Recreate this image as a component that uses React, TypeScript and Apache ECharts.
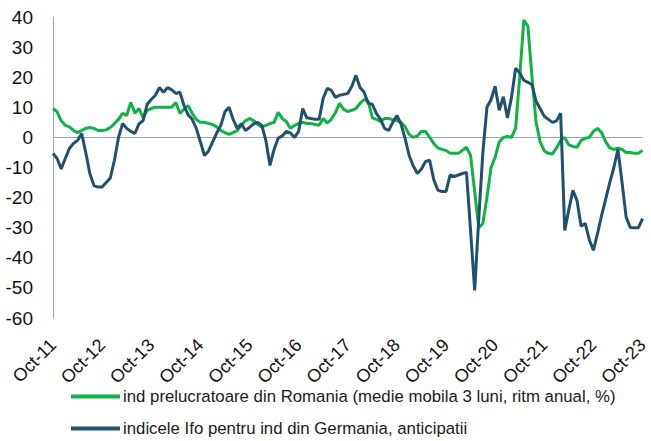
import React, { useEffect, useRef } from "react";
import * as echarts from "echarts";

const monthNames = ["Jan", "Feb", "Mar", "Apr", "May", "Jun", "Jul", "Aug", "Sep", "Oct", "Nov", "Dec"];
const startYear = 2011;
const startMonth = 9; // October
const nMonths = 145;
const categories: string[] = [];
for (let i = 0; i < nMonths; i++) {
  const m = (startMonth + i) % 12;
  const y = startYear + Math.floor((startMonth + i) / 12);
  categories.push(`${monthNames[m]}-${String(y % 100).padStart(2, "0")}`);
}

const seriesNames = [
  "ind prelucratoare din Romania (medie mobila 3 luni, ritm anual, %)",
  "indicele Ifo pentru ind din Germania, anticipatii",
];

const romaniaIndustry = [
  9.6, 8.5, 5.5, 4, 3.5, 2.3, 1.6, 2.3, 3, 3.3, 3, 2.3, 2.3, 2.5, 3.3, 4.6, 6, 8, 7.3, 11.6,
  8, 9.6, 6.6, 9, 9.6, 10, 10, 10, 10, 10, 11.6, 8, 9.3, 10.6, 8, 6, 5, 5, 4.6, 4.3,
  3.5, 2.3, 1.6, 1, 1.6, 2.3, 4, 5.5, 6.3, 5.6, 4.3, 3.5, 4, 4.6, 5, 8.3, 6.3, 5.3, 3, 4,
  4.6, 5, 4.6, 4.6, 4.3, 4, 6.3, 4.8, 6, 8.3, 11.3, 9.3, 8.6, 9, 9.6, 11.3, 12.6, 12, 6.5, 6,
  5.3, 6.3, 6.3, 5.8, 5.6, 5, 3.5, 1, 0, 0.5, 2, 2, 0, -2, -3.5, -4, -4.3, -5.3, -5.3, -5.3,
  -4.3, -3.3, -6, -18, -30, -28.6, -20, -10, -6.6, -1.5, 0, 0.3, 0, 3, 20, 39, 37, 20, 5, -1.5,
  -4.5, -5.3, -5.5, -3.5, -1, 0, -2.5, -3, -3.3, -1, -0.3, 0, 2, 3, 1.6, -1.5, -3.5, -4, -3.6, -4,
  -5, -5, -5.3, -5.3, -4.3,
];

const ifoExpectations = [
  -5.3, -7, -10.5, -7, -3.7, -2, -1, 1.3, -5, -12, -16, -16.5, -16.5, -15, -13.5, -7.6, 0, 4.6, 3, 2,
  1.3, 4.5, 5.6, 11, 12.6, 14, 16.6, 15, 16.6, 15.8, 14.6, 15, 10.6, 7.5, 6, 3, -1.5, -6, -4.5, -1.5,
  1.5, 4, 8.5, 10, 6, 3, 4.5, 2.3, 3.3, 4.5, 5, 4, -1, -9.3, -4, -0.3, 0.5, 2, 1.5, 0,
  2, 9.6, 6.5, 6.3, 6, 6, 13, 16.3, 15.6, 13.3, 14, 14.3, 14.6, 17, 20.6, 16.6, 15, 11.3, 11, 8,
  6, 3, 2.3, 5, 7.3, 4.5, -0.3, -6, -9.5, -12, -10.5, -8, -7.6, -14, -17.5, -18, -18, -12.5, -13, -12.5,
  -12, -11.6, -31, -50.8, -27, -5, 10, 12.5, 17, 9, 13.5, 6.5, 13.3, 23, 21.5, 19, 18.3, 17.5, 12, 9.5,
  7, 6, 5, 5.5, 8, -30.9, -24, -17.6, -21, -29.5, -28.6, -34, -37.5, -32, -26, -20.5, -15, -10, -4, -15,
  -26.5, -29.9, -30, -30, -27,
];

const colors = ["#0DB443", "#22506F"];
const FONT = "'Liberation Sans', Arial, sans-serif";

const legendBase = {
  orient: "horizontal",
  left: 71,
  padding: 0,
  icon: "rect",
  itemWidth: 49,
  itemHeight: 4,
  textStyle: { fontFamily: FONT, fontSize: 16.8, color: "#1a1a1a", padding: [0, 0, 0, -2] },
};

export default function App() {
  const ref = useRef<HTMLDivElement>(null);
  useEffect(() => {
    if (!ref.current) return;
    const chart = echarts.init(ref.current, undefined, { renderer: "svg" });
    chart.setOption({
      animation: false,
      color: colors,
      textStyle: { fontFamily: FONT },
      grid: { left: 53, right: 4, top: 17, bottom: 123, containLabel: false },
      legend: [
        { ...legendBase, top: 388, data: [seriesNames[0]] },
        { ...legendBase, top: 420, data: [seriesNames[1]] },
      ],
      xAxis: {
        type: "category",
        data: categories,
        boundaryGap: false,
        axisLine: { show: false, onZero: false },
        axisTick: { show: false },
        axisLabel: {
          interval: 11,
          rotate: 45,
          fontSize: 18,
          color: "#111",
          fontFamily: FONT,
          margin: 24,
        },
        splitLine: { show: false },
      },
      yAxis: {
        type: "value",
        min: -60,
        max: 40,
        interval: 10,
        axisLine: { show: true, lineStyle: { color: "#A6A6A6", width: 1 } },
        axisTick: { show: false },
        splitLine: { show: false },
        axisLabel: { fontSize: 19, color: "#111", fontFamily: FONT, margin: 20 },
      },
      series: [
        {
          name: seriesNames[0],
          type: "line",
          data: romaniaIndustry,
          symbol: "none",
          lineStyle: { color: colors[0], width: 3 },
          itemStyle: { color: colors[0] },
          z: 3,
          markLine: {
            silent: true,
            symbol: "none",
            label: { show: false },
            lineStyle: { color: "#A6A6A6", width: 1, type: "solid" },
            data: [{ yAxis: 0 }],
            z: 1,
          },
        },
        {
          name: seriesNames[1],
          type: "line",
          data: ifoExpectations,
          symbol: "none",
          lineStyle: { color: colors[1], width: 3 },
          itemStyle: { color: colors[1] },
          z: 4,
        },
      ],
    });
    return () => chart.dispose();
  }, []);
  return <div ref={ref} style={{ width: 651, height: 441, position: "absolute", left: 0, top: 0 }} />;
}
